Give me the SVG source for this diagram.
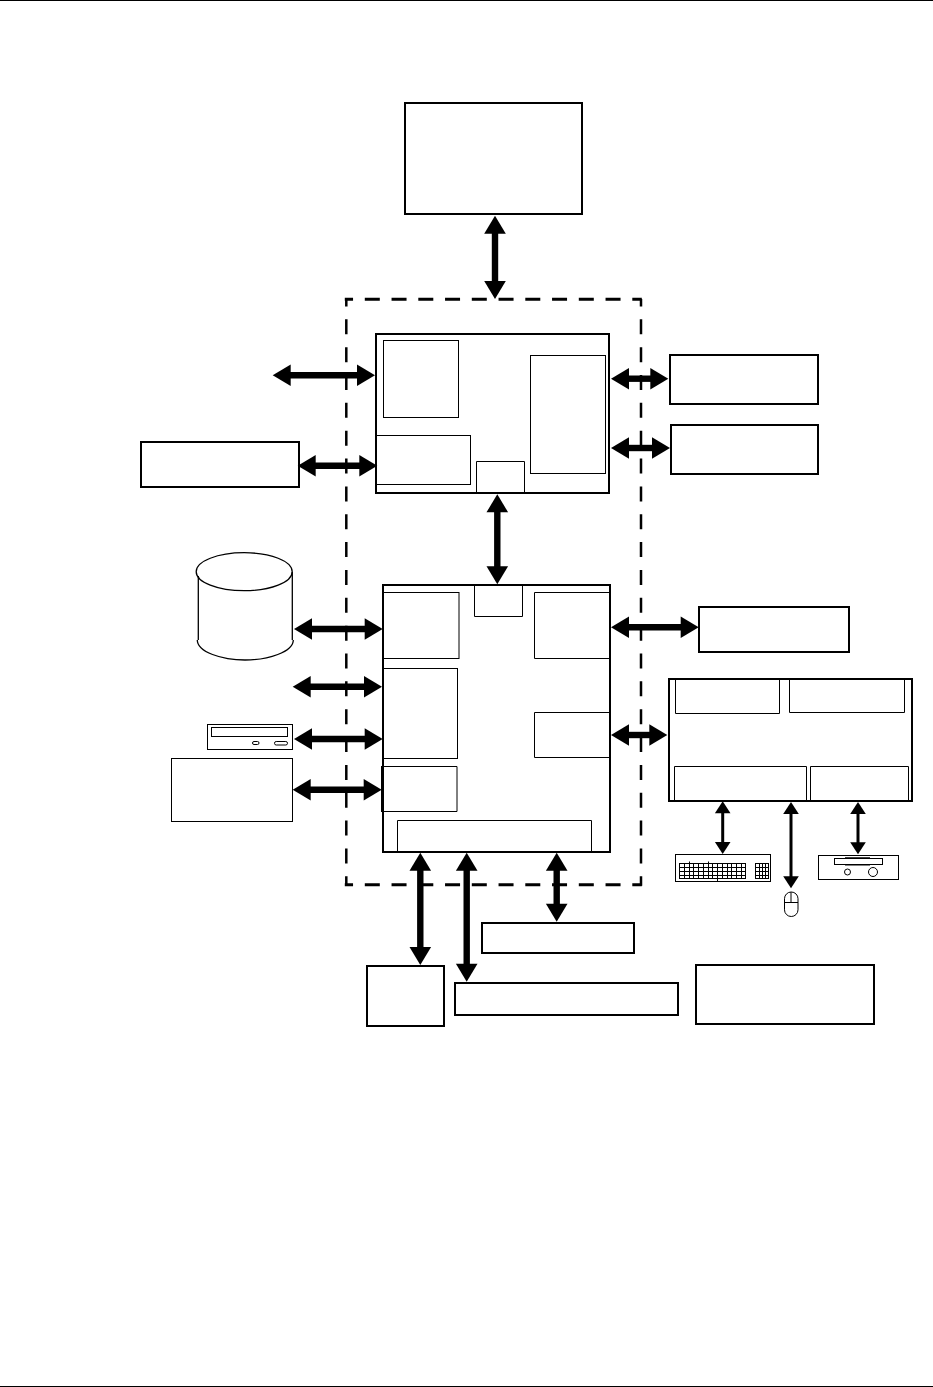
<svg xmlns="http://www.w3.org/2000/svg" width="933" height="1387" viewBox="0 0 933 1387" style="background:#fff">
<style>
.b{fill:none;stroke:#000;stroke-width:2}
.t{fill:#fff;stroke:#000;stroke-width:1}
.n{fill:none;stroke:#000;stroke-width:1}
.c{fill:none;stroke:#000;stroke-width:1.3}
.h{stroke:#000;stroke-width:3;stroke-dasharray:15 11.75;stroke-dashoffset:6.75;fill:none}
.v{stroke:#000;stroke-width:2.5;stroke-dasharray:15 12.85;stroke-dashoffset:7.55;fill:none}
.a{stroke:#000;stroke-width:6.4;fill:none;marker-start:url(#big);marker-end:url(#big)}
.s{stroke:#000;stroke-width:3;fill:none;marker-start:url(#small);marker-end:url(#small)}
</style>
<defs>
<marker id="big" markerUnits="userSpaceOnUse" orient="auto-start-reverse" markerWidth="20" markerHeight="22" refX="1" refY="0" overflow="visible"><path d="M0-10.800 18 0 0 10.800Z" fill="#000"/></marker>
<marker id="small" markerUnits="userSpaceOnUse" orient="auto-start-reverse" markerWidth="14" markerHeight="16" refX="1" refY="0" overflow="visible"><path d="M0-7.800 12 0 0 7.800Z" fill="#000"/></marker>
</defs>
<rect id="page-top-rule" x="0" y="0" width="933" height="1" fill="#000"/>
<rect id="page-bottom-rule" x="0" y="1386" width="933" height="1" fill="#000"/>

<g id="host-box"><rect class="b" x="405" y="103" width="177" height="111"/></g>

<g id="boundary">
<path class="h" d="M344.8 299.3H641.8"/>
<path class="h" d="M344.8 884.7H641.8"/>
<path class="v" d="M346.3 299V885.8"/>
<path class="v" d="M641 299V885.8"/>
</g>

<g id="upper-chip">
<rect class="b" x="376" y="334" width="233" height="159"/>
<rect class="n" x="383.5" y="340.5" width="75" height="77"/>
<rect class="n" x="530.5" y="355.5" width="75" height="118"/>
<rect class="n" x="376.5" y="435.5" width="94" height="49"/>
<path class="n" d="M476.5 493V461.5H524.5V493"/>
</g>

<g id="lower-chip">
<rect class="b" x="383" y="585" width="227" height="267"/>
<rect class="n" x="383.5" y="592.5" width="75.5" height="66"/>
<rect class="n" x="383.5" y="668.5" width="74" height="90"/>
<path class="n" d="M383 766.5H457V811.5H382"/>
<path d="M382 766V812" stroke="#000" stroke-width="2"/>
<path class="n" d="M397.5 851V820.5H591.5V851"/>
<path class="n" d="M474.5 585V616.5H522.5V585"/>
<path class="n" d="M610 592.5H534.5V658.5H610"/>
<path class="n" d="M610 712.5H534.5V757.5H610"/>
</g>

<g id="box-right-1"><rect class="b" x="670" y="355" width="148" height="49"/></g>
<g id="box-right-2"><rect class="b" x="671" y="425" width="147" height="49"/></g>
<g id="box-right-3"><rect class="b" x="699" y="607" width="150" height="45"/></g>
<g id="box-left-1"><rect class="b" x="141" y="442" width="158" height="45"/></g>

<g id="io-panel">
<rect class="b" x="669" y="679" width="243" height="122"/>
<path class="n" d="M675.5 680V713.5H779.5V680"/>
<path class="n" d="M789.5 680V712.5H904.5V680"/>
<path class="n" d="M674.5 800V766.5H806.5V800"/>
<path class="n" d="M810.5 800V766.5H908.5V800"/>
</g>

<g id="disk">
<path class="c" d="M198.3 576V640M292.3 572V640"/>
<path class="c" d="M197.3 640C197.3 652 222 660 245 660S293.3 652 293.3 640"/>
<ellipse class="c" cx="244.2" cy="571.7" rx="48" ry="19"/>
</g>

<g id="optical-drive">
<rect class="n" x="207.5" y="724.5" width="85" height="25"/>
<rect class="n" x="211.5" y="727.5" width="76" height="9"/>
<rect class="n" x="252.5" y="741.5" width="6.5" height="3" rx="1.5"/>
<rect class="n" x="274.5" y="741.5" width="13" height="3.5" rx="1.7"/>
</g>

<g id="box-left-2"><rect class="n" x="171.5" y="758.5" width="121" height="63"/></g>

<g id="keyboard">
<rect class="n" x="675.5" y="854.5" width="95" height="27"/>
<path class="n" d="M679 863.5H746M679 867.5H746M679 871.5H746M679 875.5H746M679 878.5H746"/>
<path class="n" d="M679.5 863V879M684.5 863V879M689.5 861.5V879M693.5 863V879M698.5 863V879M703.5 863V879M708.5 861.5V879M712.5 863V879M717.5 863V881M722.5 863V879M727.5 863V879M731.5 863V879M736.5 863V879M741.5 863V879M745.5 863V879"/>
<path class="n" d="M755 863.5H769M755 867.5H769M755 871.5H769M755 875.5H769M755 878.5H769M755.5 863V879M759.5 863V879M762.5 863V879M765.5 863V879M768.5 863V879"/>
</g>

<g id="mouse">
<rect class="n" x="784.5" y="892" width="13.5" height="24.5" rx="6.7"/>
<path class="n" d="M791 892V902M784.5 902.5H798"/>
</g>

<g id="floppy">
<rect class="n" x="818.5" y="855.5" width="80" height="24"/>
<rect class="n" x="834.5" y="858.5" width="48" height="6"/>
<path d="M845 858H870M845 864.8H870" stroke="#000" stroke-width="1.5"/>
<circle class="n" cx="847.5" cy="872" r="3"/>
<circle class="n" cx="873" cy="872" r="4.5"/>
</g>

<g id="box-bottom-1"><rect class="b" x="367" y="966" width="77" height="60"/></g>
<g id="box-bottom-2"><rect class="b" x="455" y="983" width="223" height="32"/></g>
<g id="box-bottom-3"><rect class="b" x="482" y="923" width="152" height="30"/></g>
<g id="box-bottom-4"><rect class="b" x="696" y="965" width="178" height="59"/></g>

<g id="connectors">
<line class="a" x1="495" y1="232.7" x2="495" y2="282"/>
<line class="a" x1="497.3" y1="511.3" x2="497.3" y2="567.3"/>
<line class="a" x1="289.7" y1="375.3" x2="358" y2="375.3"/>
<line class="a" x1="314.7" y1="465.7" x2="360.3" y2="465.7"/>
<line class="a" x1="628" y1="378.7" x2="651.3" y2="378.7"/>
<line class="a" x1="628" y1="448" x2="653" y2="448"/>
<line class="a" x1="311" y1="629" x2="365.7" y2="629"/>
<line class="a" x1="309.7" y1="686.7" x2="365" y2="686.7"/>
<line class="a" x1="311" y1="739" x2="365.7" y2="739"/>
<line class="a" x1="309.7" y1="789.7" x2="364.7" y2="789.7"/>
<line class="a" x1="628" y1="627.3" x2="681.7" y2="627.3"/>
<line class="a" x1="628" y1="735" x2="650.3" y2="735"/>
<line class="a" x1="420.3" y1="869.7" x2="420.3" y2="948"/>
<line class="a" x1="466.7" y1="869.7" x2="466.7" y2="964.7"/>
<line class="a" x1="556.7" y1="869.7" x2="556.7" y2="904.7"/>
<line class="s" x1="722.7" y1="812.3" x2="722.7" y2="843"/>
<line class="s" x1="791" y1="813" x2="791" y2="877.3"/>
<line class="s" x1="858" y1="813" x2="858" y2="843.3"/>
</g>
</svg>
